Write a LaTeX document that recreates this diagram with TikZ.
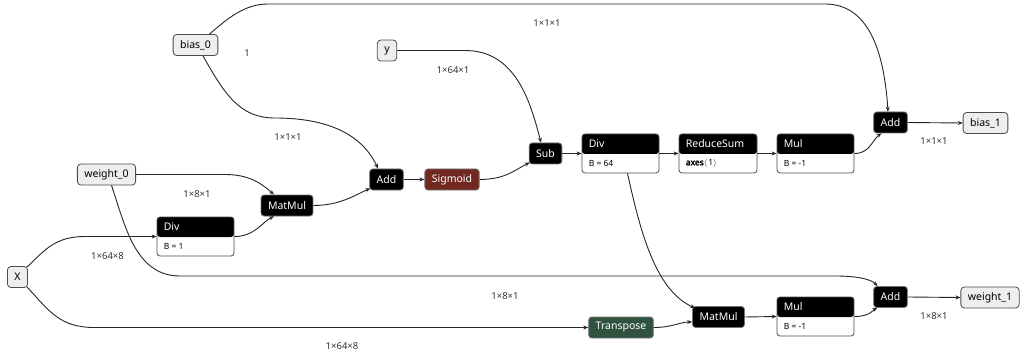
\documentclass[tikz,border=0pt]{standalone}
\usepackage{fontspec}
\setmainfont{Noto Sans}
\newfontfamily\dickfont{Noto Sans}[FakeBold=2.5]
\usetikzlibrary{arrows.meta}
\definecolor{SigRed}{RGB}{112,40,32}
\definecolor{TrGreen}{RGB}{50,82,64}
\definecolor{InGray}{RGB}{238,238,238}
\newcommand{\nfont}{\fontsize{10.5}{12}\selectfont}
\newcommand{\efont}{\fontsize{9.5}{11}\selectfont}
\newcommand{\afont}{\fontsize{8.5}{10}\selectfont}

\begin{document}
\begin{tikzpicture}[x=1pt, y=-1pt,
	Pfeil/.style={draw=black!85, line width=0.9pt, arrows = -{Stealth[length=5pt,width=4pt]}},
	Ein/.style={draw=black!70, line width=0.8pt, fill=InGray, rounded corners=3.5pt, minimum height=21pt, inner xsep=7pt, font=\nfont},
	Op/.style={draw=black!55, line width=0.8pt, fill=black, text=white, rounded corners=3pt, minimum height=21pt, inner xsep=7pt, font=\nfont},
	OpAttr/.style={draw=black!70, line width=0.8pt, fill=white, rounded corners=3pt, minimum height=39pt, minimum width=77pt, inner sep=0pt,
		path picture={\fill[black] (path picture bounding box.north west) rectangle ([yshift=-20pt]path picture bounding box.north east);}},
	Kopf/.style={anchor=west, text=white, font=\nfont, yshift=9.5pt, inner xsep=7pt},
	Attr/.style={anchor=west, font=\afont, yshift=-9.75pt, inner xsep=7pt},
	Dim/.style={font=\efont, text=black!80}]
				\useasboundingbox (0,0) rectangle (1024,358);
				% inputs and outputs
				\node[Ein] (bias0) at (195.5,45) {bias\_0};
				\node[Ein] (yin) at (387,50.5) {y};
				\node[Ein] (weight0) at (106.5,174.5) {weight\_0};
				\node[Ein] (X) at (17.5,277) {X};
				\node[Ein] (bias1) at (985.5,123) {bias\_1};
				\node[Ein] (weight1) at (990,297.5) {weight\_1};
				% operators
				\node[Op] (mm1) at (287,205.5) {MatMul};
				\node[Op] (add1) at (386.5,179.5) {Add};
				\node[Op, fill=SigRed] (sig) at (452,179.5) {Sigmoid};
				\node[Op] (sub) at (545.5,153.5) {Sub};
				\node[Op] (add2) at (890.5,122.5) {Add};
				\node[Op, fill=TrGreen] (trans) at (621,327.5) {Transpose};
				\node[Op] (mm2) at (718.5,317) {MatMul};
				\node[Op] (add3) at (890.5,297) {Add};
				\node[OpAttr, label={[Kopf]west:Div}, label={[Attr]west:{B = 1}}] (div1) at (195.5,236.5) {};
				\node[OpAttr, label={[Kopf]west:Div}, label={[Attr]west:{B = 64}}] (div2) at (620.5,153.5) {};
				\node[OpAttr, minimum width=78pt, label={[Kopf]west:ReduceSum}, label={[Attr]west:{{\dickfont axes}$\langle$\,1$\rangle$}}] (rsum) at (718,153.5) {};
				\node[OpAttr, label={[Kopf]west:Mul}, label={[Attr]west:{B = -1}}] (mul1) at (815.5,153.5) {};
				\node[OpAttr, label={[Kopf]west:Mul}, label={[Attr]west:{B = -1}}] (mul2) at (815.5,316.5) {};
				% shapes
				\node[Dim] (d1) at (547,23) {1×1×1};
				\node[Dim] (d2) at (247,53) {1};
				\node[Dim] (d3) at (288,137) {1×1×1};
				\node[Dim] (d4) at (453,70) {1×64×1};
				\node[Dim] (d5) at (197,194) {1×8×1};
				\node[Dim] (d6) at (107.5,256) {1×64×8};
				\node[Dim] (d7) at (505,296) {1×8×1};
				\node[Dim] (d8) at (342,346) {1×64×8};
				\node[Dim] (d9) at (934,141) {1×1×1};
				\node[Dim] (d10) at (934,316) {1×8×1};
				% edges
				\draw[Pfeil] ([xshift=14pt]bias0.north) .. controls (228,18) and (245,4) .. (268,4) -- (825,4) .. controls (868,4) and (884,50) .. ([xshift=-2.5pt]add2.north);
				\draw[Pfeil] ([xshift=7.5pt]bias0.south) .. controls (225,95) and (240,118) .. (275,118) .. controls (320,118) and (360,130) .. ([xshift=-8.5pt]add1.north);
				\draw[Pfeil] (yin.east) -- (465,50.5) .. controls (515,50.5) and (530,100) .. ([xshift=-4.5pt]sub.north);
				\draw[Pfeil] (weight0.east) -- (225,174.5) .. controls (250,174.5) and (262,184) .. ([xshift=-13pt]mm1.north);
				\draw[Pfeil] ([xshift=5pt]weight0.south) .. controls (125,225) and (135,276) .. (180,276) -- (835,276) .. controls (860,276) and (872,280) .. ([xshift=-13pt]add3.north);
				\draw[Pfeil] ([xshift=-1pt,yshift=-1pt]X.north east) .. controls (45,250) and (55,236.5) .. (85,236.5) -- (div1.west);
				\draw[Pfeil] ([xshift=-1pt,yshift=1pt]X.south east) .. controls (50,312) and (60,327.5) .. (95,327.5) -- (trans.west);
				\draw[Pfeil] (div1.east) .. controls (255,236.5) and (262,222) .. ([xshift=-13pt]mm1.south);
				\draw[Pfeil] (mm1.east) .. controls (340,205.5) and (355,195) .. ([xshift=1pt,yshift=2pt]add1.south west);
				\draw[Pfeil] (add1.east) -- (sig.west);
				\draw[Pfeil] (sig.east) .. controls (505,179.5) and (515,170) .. ([xshift=1pt,yshift=2pt]sub.south west);
				\draw[Pfeil] (sub.east) -- (div2.west);
				\draw[Pfeil] (div2.east) -- (rsum.west);
				\draw[Pfeil] (rsum.east) -- (mul1.west);
				\draw[Pfeil] (mul1.east) .. controls (870,153.5) and (872,140) .. ([xshift=-9pt]add2.south);
				\draw[Pfeil] (add2.east) -- (bias1.west);
				\draw[Pfeil] ([xshift=7pt]div2.south) .. controls (640,230) and (655,290) .. ([xshift=3pt,yshift=-2pt]mm2.north west);
				\draw[Pfeil] (trans.east) .. controls (672,327.5) and (680,322) .. ([yshift=-5pt]mm2.west);
				\draw[Pfeil] (mm2.east) -- (mul2.west);
				\draw[Pfeil] (mul2.east) .. controls (870,316.5) and (873,310) .. ([xshift=-13pt]add3.south);
				\draw[Pfeil] (add3.east) -- (weight1.west);
			\end{tikzpicture}
\end{document}
